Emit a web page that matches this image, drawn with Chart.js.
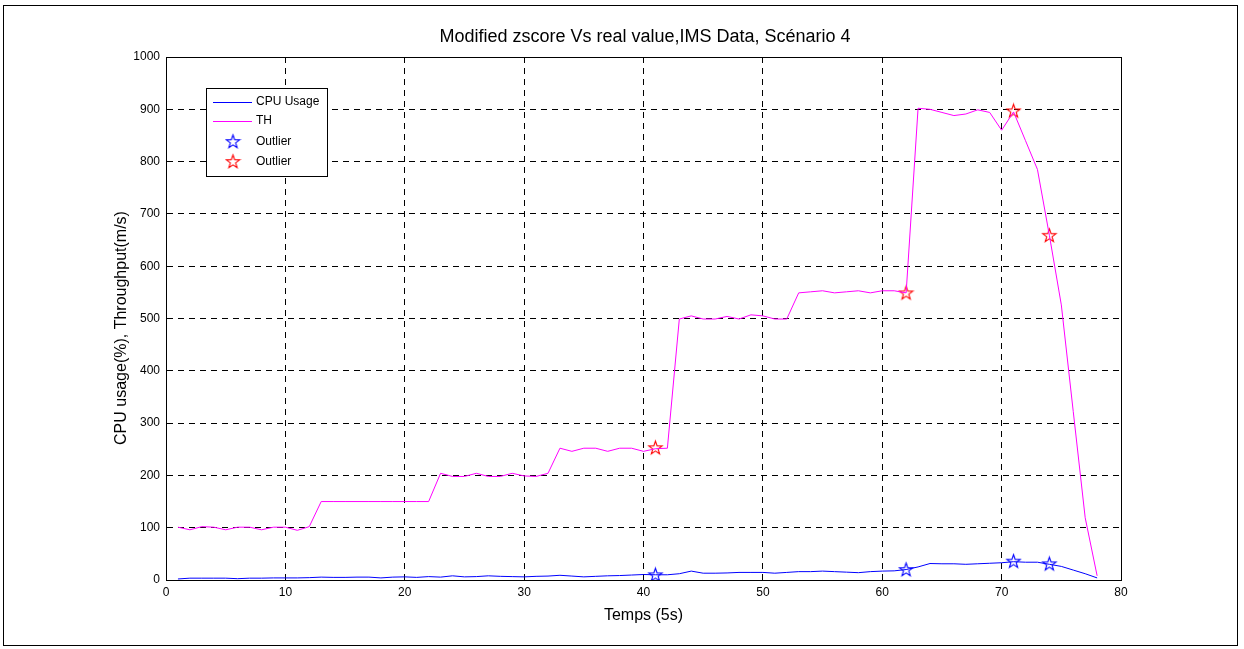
<!DOCTYPE html>
<html>
<head>
<meta charset="utf-8">
<title>Modified zscore Vs real value</title>
<script src="https://cdn.jsdelivr.net/npm/chart.js@4/dist/chart.umd.min.js"></script>
<style>
    body { margin: 0; background: #fff; }
    #marco { position: absolute; left: 3px; top: 5px; width: 1233px; height: 639px; border: 1px solid #000; }
    #grafico { position: absolute; left: 0; top: 0; }
</style>
</head>
<body>
<div id="marco"></div>
<canvas id="grafico" width="1244" height="649"></canvas>
<script>
// DATOS (x = 1..78, paso de 5s)
const cpuUsage = [2, 3.5, 3.5, 3.5, 3.5, 2.5, 3.5, 3.5, 4, 4, 4, 4.5, 5.5, 5, 5, 5.5, 5.5, 4, 5.5, 6,
    5, 6.5, 5.5, 8, 6, 6.5, 8, 7, 6.5, 6, 7, 7.5, 9, 7.5, 6, 7, 8, 8.5, 9.5, 10.5,
    10, 10, 12, 17, 13, 13, 13.5, 14.5, 14.5, 14.5, 13, 14.5, 16, 16, 17, 16, 15, 14, 16, 17,
    17.5, 20, 25, 31.5, 31, 31, 30, 31, 32, 33, 35, 34, 34, 30, 26, 19, 12, 4];
const throughput = [101, 96, 102, 101, 96, 101, 101, 96, 101, 101, 95, 102, 150, 150, 150, 150, 150, 150, 150, 150,
    150, 150, 204, 198, 198, 204, 198, 198, 204, 199, 198, 204, 252, 246, 252, 252, 246, 252, 252, 246,
    251, 252, 499, 505, 499, 499, 504, 499, 507, 505, 499, 499, 549, 551, 553, 549, 551, 553, 549, 553,
    553, 549, 902, 900, 894, 888, 891, 899, 894, 860, 895, 840, 785, 659, 526, 322, 119, 8];
const outlierTemps = [41, 62, 71, 74];
const outlierCpu = [10, 20, 36, 31];
const outlierTh = [253, 549, 897, 659];

const xTicks = [0, 10, 20, 30, 40, 50, 60, 70, 80];
const yTicks = [0, 100, 200, 300, 400, 500, 600, 700, 800, 900, 1000];

const FUENTE = "'Liberation Sans', Arial, sans-serif";

// pentagrama estilo MATLAB
function crearEstrella(color) {
    let c = document.createElement("canvas");
    c.width = 17;
    c.height = 17;
    let ctx = c.getContext("2d");
    ctx.strokeStyle = color;
    ctx.lineWidth = 1.1;
    ctx.beginPath();
    for (let i = 0; i < 10; i++) {
        let r = i % 2 === 0 ? 7 : 2.8;
        let a = -Math.PI / 2 + i * Math.PI / 5;
        let px = 8.5 + r * Math.cos(a);
        let py = 9 + r * Math.sin(a);
        if (i === 0) ctx.moveTo(px, py); else ctx.lineTo(px, py);
    }
    ctx.closePath();
    ctx.stroke();
    return c;
}

const estrellaAzul = crearEstrella("#0000ff");
const estrellaRoja = crearEstrella("#ff0000");

function puntos(xs, ys) {
    return ys.map((v, i) => ({ x: xs[i], y: v }));
}
const temps = cpuUsage.map((v, i) => i + 1);

// caja del grafico, titulos y leyenda
const pluginMatlab = {
    id: "matlab",
    afterDraw(chart) {
        const ctx = chart.ctx;
        const a = chart.chartArea;
        ctx.save();
        ctx.strokeStyle = "#000";
        ctx.lineWidth = 1;
        ctx.strokeRect(Math.round(a.left) + 0.5, Math.round(a.top) + 0.5, Math.round(a.right - a.left), Math.round(a.bottom - a.top));

        ctx.fillStyle = "#000";
        ctx.font = "18px " + FUENTE;
        ctx.textAlign = "center";
        ctx.textBaseline = "middle";
        ctx.fillText("Modified zscore Vs real value,IMS Data, Scénario 4", 645, 37);

        ctx.save();
        ctx.translate(122, 328);
        ctx.rotate(-Math.PI / 2);
        ctx.font = "16px " + FUENTE;
        ctx.fillText("CPU usage(%), Throughput(m/s)", 0, 0);
        ctx.restore();

        // leyenda
        const lx = 206, ly = 88, lw = 121, lh = 88;
        ctx.fillStyle = "#fff";
        ctx.fillRect(lx, ly, lw, lh);
        ctx.strokeRect(lx + 0.5, ly + 0.5, lw, lh);
        ctx.font = "12px " + FUENTE;
        ctx.textAlign = "left";
        const filas = [102, 121, 142, 162];
        chart.data.datasets.forEach((ds, i) => {
            const y = filas[i];
            if (ds.showLine === false) {
                ctx.drawImage(ds.pointStyle, 233 - 8.5, y - 9);
            } else {
                ctx.strokeStyle = ds.borderColor;
                ctx.lineWidth = 1;
                ctx.beginPath();
                ctx.moveTo(213, y + 0.5);
                ctx.lineTo(252, y + 0.5);
                ctx.stroke();
            }
            ctx.fillStyle = "#000";
            ctx.fillText(ds.label, 256, y);
        });
        ctx.restore();
    }
};

const config = {
    type: "line",
    data: {
        datasets: [{
            label: "CPU Usage",
            data: puntos(temps, cpuUsage),
            borderColor: "#0000ff",
            borderWidth: 1,
            pointRadius: 0,
            tension: 0
        }, {
            label: "TH",
            data: puntos(temps, throughput),
            borderColor: "#ff00ff",
            borderWidth: 1,
            pointRadius: 0,
            tension: 0
        }, {
            label: "Outlier",
            data: puntos(outlierTemps, outlierCpu),
            showLine: false,
            pointStyle: estrellaAzul,
            pointRadius: 7
        }, {
            label: "Outlier",
            data: puntos(outlierTemps, outlierTh),
            showLine: false,
            pointStyle: estrellaRoja,
            pointRadius: 7
        }]
    },
    options: {
        responsive: false,
        animation: false,
        layout: { padding: { left: 0, top: 57, right: 123, bottom: 0 } },
        plugins: {
            legend: { display: false },
            title: { display: false },
            tooltip: { enabled: false }
        },
        scales: {
            x: {
                type: "linear",
                min: 0,
                max: 80,
                afterBuildTicks: (s) => { s.ticks = xTicks.map(v => ({ value: v })); },
                afterFit: (s) => { s.height = 69; },
                ticks: { color: "#000", font: { family: FUENTE, size: 12 }, padding: 5, maxRotation: 0, callback: (v) => String(v) },
                grid: { color: "#000", lineWidth: 1, drawTicks: false },
                border: { display: true, color: "#000", width: 1, dash: [6, 5] },
                title: { display: true, text: "Temps (5s)", color: "#000", font: { family: FUENTE, size: 16 }, padding: { top: 0, bottom: 24 } }
            },
            y: {
                min: 0,
                max: 1000,
                afterBuildTicks: (s) => { s.ticks = yTicks.map(v => ({ value: v })); },
                afterFit: (s) => { s.width = 166; },
                ticks: { color: "#000", font: { family: FUENTE, size: 12 }, padding: 6, callback: (v) => String(v) },
                grid: { color: "#000", lineWidth: 1, drawTicks: false },
                border: { display: true, color: "#000", width: 1, dash: [6, 5] },
                title: { display: false }
            }
        }
    },
    plugins: [pluginMatlab]
};

let myChart = new Chart(document.getElementById("grafico"), config);
</script>
</body>
</html>
